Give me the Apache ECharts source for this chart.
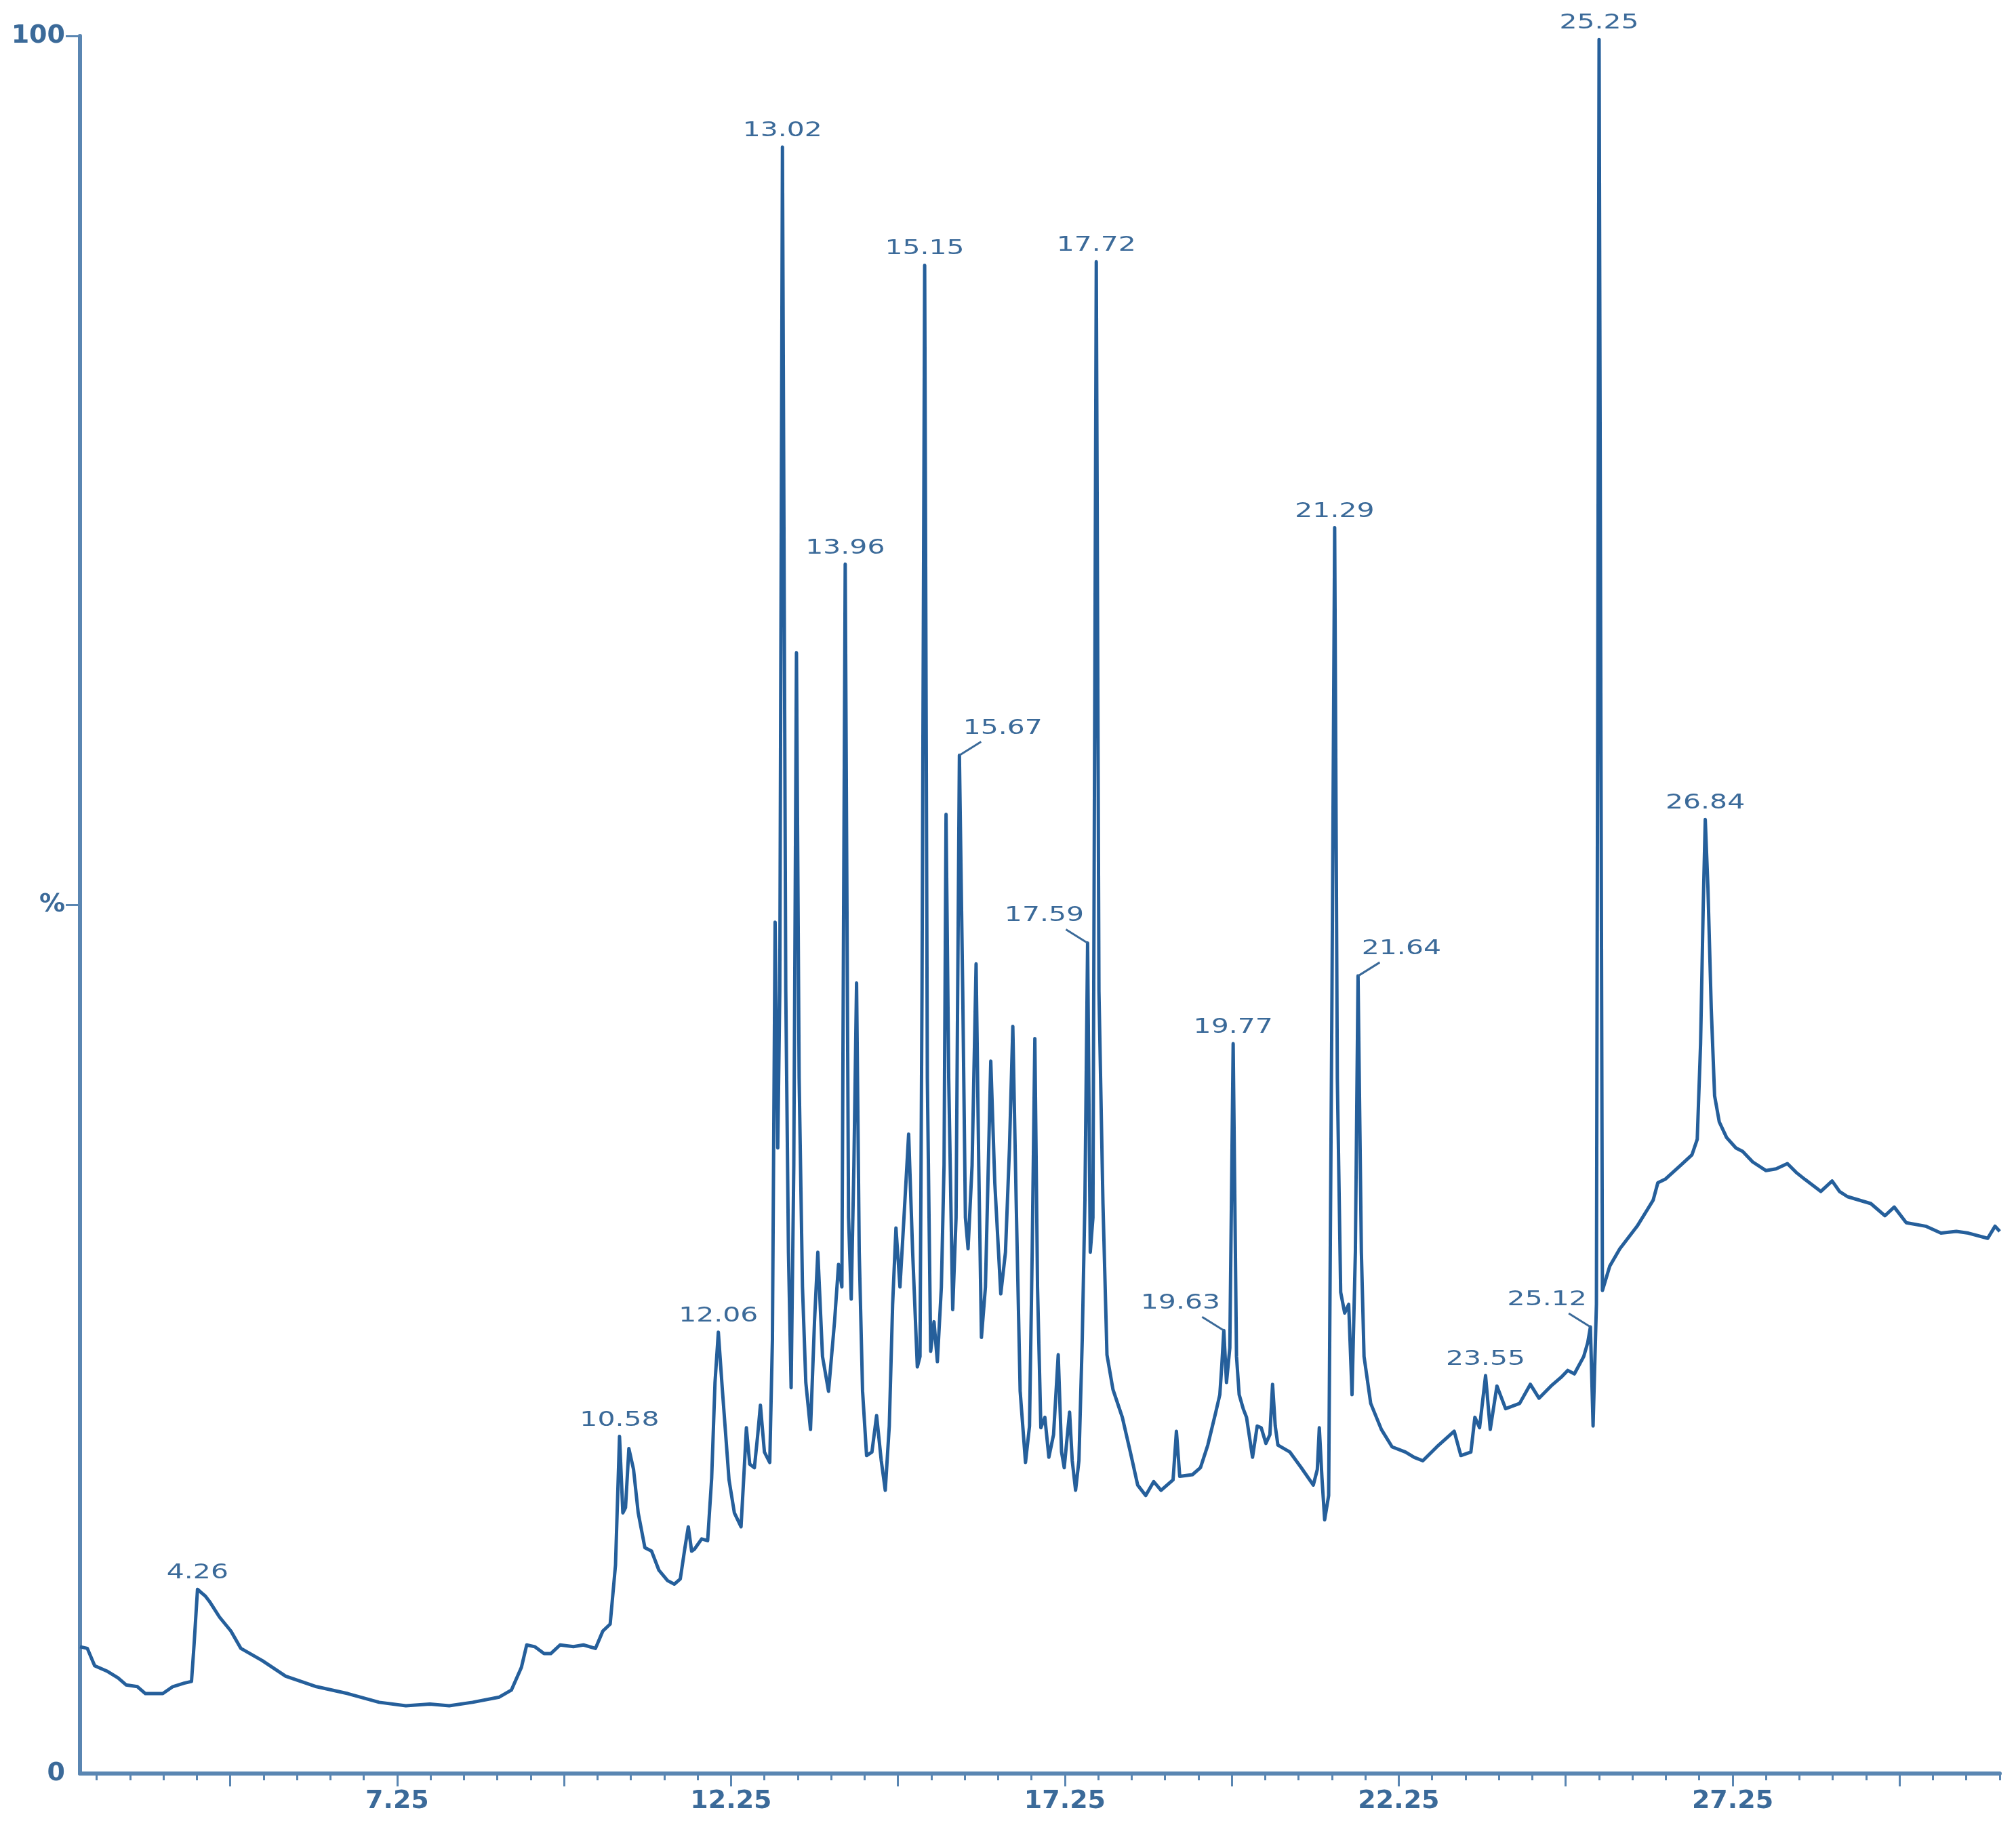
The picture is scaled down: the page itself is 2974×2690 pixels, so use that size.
<!DOCTYPE html>
<html>
<head>
<meta charset="utf-8">
<title>Chromatogram</title>
<script src="https://cdn.jsdelivr.net/npm/echarts@6.0.0/dist/echarts.min.js"></script>
<style>
  html, body { margin: 0; padding: 0; background: #ffffff; }
  #chart { width: 2974px; height: 2690px; }
</style>
</head>
<body>
<div id="chart"></div>
<script>
// retention time (min) and relative intensity (%)
const retentionTime = [
  2.50, 2.61, 2.72, 2.90, 3.07, 3.19, 3.36, 3.48, 3.74, 3.89, 4.06, 4.17, 4.21, 4.26, 4.32, 4.38,
  4.44, 4.59, 4.76, 4.91, 5.23, 5.58, 6.04, 6.51, 6.98, 7.38, 7.74, 8.03, 8.38, 8.78, 8.96, 9.11,
  9.19, 9.31, 9.45, 9.55, 9.69, 9.89, 10.04, 10.22, 10.33, 10.44,
  10.52, 10.58, 10.63, 10.67, 10.72, 10.79, 10.86, 10.96, 11.06, 11.17, 11.30, 11.40, 11.49, 11.56,
  11.61, 11.66, 11.70, 11.81, 11.90, 11.96, 12.01, 12.06, 12.12, 12.22, 12.30, 12.40, 12.44, 12.48,
  12.53, 12.60, 12.65, 12.69, 12.75, 12.83, 12.87, 12.91, 12.95, 12.98, 13.02, 13.07, 13.11, 13.15,
  13.19, 13.23, 13.27, 13.32, 13.37, 13.44, 13.50, 13.55, 13.62, 13.71, 13.80, 13.86, 13.91, 13.96,
  14.01, 14.05, 14.09, 14.13, 14.17, 14.22, 14.28, 14.36, 14.43, 14.50, 14.56, 14.62, 14.67, 14.72,
  14.78, 14.84, 14.91, 14.97, 15.04, 15.08, 15.11, 15.15, 15.19, 15.24, 15.29, 15.34, 15.40, 15.44,
  15.47, 15.51, 15.57, 15.62, 15.67, 15.72, 15.76, 15.80, 15.86, 15.92, 15.96, 16.00, 16.06, 16.14,
  16.20, 16.29, 16.36, 16.42, 16.47, 16.52, 16.58, 16.66, 16.72, 16.76, 16.80, 16.84, 16.89, 16.95,
  17.01, 17.08, 17.15, 17.20, 17.24, 17.32, 17.36, 17.41, 17.46, 17.51, 17.55, 17.59, 17.63, 17.67,
  17.72, 17.76, 17.82, 17.88, 17.97, 18.11, 18.23, 18.34, 18.46, 18.58, 18.69, 18.87, 18.92, 18.97,
  19.16, 19.28, 19.39, 19.51, 19.57, 19.60, 19.63, 19.67, 19.72, 19.77, 19.82, 19.86, 19.92, 19.97,
  20.06, 20.13, 20.19, 20.26, 20.32, 20.36, 20.40, 20.44, 20.62, 20.79, 20.97, 21.03, 21.06, 21.10,
  21.14, 21.20, 21.25, 21.29, 21.33, 21.38, 21.44, 21.50, 21.55, 21.60, 21.64, 21.69, 21.73, 21.83,
  21.99, 22.15, 22.35, 22.48, 22.61, 22.82, 23.08, 23.18, 23.33, 23.39, 23.46, 23.55, 23.62, 23.72,
  23.85, 24.06, 24.22, 24.35, 24.53, 24.68, 24.78, 24.88, 25.02, 25.08, 25.12, 25.16, 25.21, 25.25,
  25.30, 25.41, 25.56, 25.82, 25.98, 26.06, 26.13, 26.24, 26.47, 26.64, 26.72, 26.77, 26.81, 26.84,
  26.88, 26.93, 26.98, 27.05, 27.16, 27.30, 27.40, 27.55, 27.75, 27.90, 28.07, 28.20, 28.33, 28.57,
  28.74, 28.85, 28.97, 29.32, 29.53, 29.67, 29.85, 30.14, 30.37, 30.60, 30.78, 31.07, 31.18, 31.25
];
const intensity = [
  7.3, 7.2, 6.2, 5.9, 5.5, 5.1, 5.0, 4.6, 4.6, 5.0, 5.2, 5.3, 7.5, 10.6, 10.4, 10.2,
  9.9, 9.0, 8.2, 7.2, 6.5, 5.6, 5.0, 4.6, 4.1, 3.9, 4.0, 3.9, 4.1, 4.4, 4.8, 6.1,
  7.4, 7.3, 6.9, 6.9, 7.4, 7.3, 7.4, 7.2, 8.2, 8.6,
  12.0, 19.4, 15.0, 15.3, 18.7, 17.5, 15.0, 13.0, 12.8, 11.7, 11.1, 10.9, 11.2, 13.0,
  14.2, 12.8, 12.9, 13.5, 13.4, 17.0, 22.5, 25.4, 22.1, 16.9, 15.0, 14.2, 17.0, 19.9,
  17.8, 17.6, 19.5, 21.2, 18.5, 17.9, 25.0, 49.0, 36.0, 45.0, 93.6, 45.0, 30.0, 22.2,
  35.0, 64.5, 40.0, 28.0, 22.5, 19.8, 26.0, 30.0, 24.0, 22.0, 26.0, 29.3, 28.0, 69.6,
  32.0, 27.3, 35.0, 45.5, 30.0, 22.0, 18.3, 18.5, 20.6, 18.0, 16.3, 20.0, 27.0, 31.4,
  28.0, 32.0, 36.8, 30.0, 23.4, 24.0, 45.0, 86.8, 40.0, 24.3, 26.0, 23.7, 28.0, 35.0,
  55.2, 40.0, 26.7, 32.0, 58.6, 45.0, 32.0, 30.2, 35.0, 46.6, 35.0, 25.1, 28.0, 41.0,
  34.0, 27.6, 30.0, 36.0, 43.0, 33.0, 22.0, 17.9, 20.0, 30.0, 42.3, 28.0, 19.9, 20.5,
  18.2, 19.5, 24.1, 18.5, 17.6, 20.8, 18.0, 16.3, 18.0, 25.0, 33.0, 47.8, 30.0, 32.0,
  87.0, 45.0, 32.8, 24.1, 22.1, 20.5, 18.5, 16.6, 16.0, 16.8, 16.3, 16.9, 19.7, 17.1,
  17.2, 17.6, 18.9, 20.8, 21.8, 23.5, 25.5, 22.5, 24.5, 42.0, 24.0, 21.8, 21.0, 20.5,
  18.2, 20.0, 19.9, 19.0, 19.5, 22.4, 20.0, 18.9, 18.5, 17.6, 16.6, 17.5, 19.9, 17.0,
  14.6, 16.0, 45.0, 71.7, 40.0, 27.7, 26.5, 27.0, 21.8, 30.0, 45.9, 30.0, 24.0, 21.3,
  19.8, 18.8, 18.5, 18.2, 18.0, 18.8, 19.7, 18.3, 18.5, 20.5, 19.9, 22.9, 19.8, 22.3,
  21.0, 21.3, 22.4, 21.6, 22.3, 22.8, 23.2, 23.0, 24.0, 24.8, 25.7, 20.0, 27.0, 99.8,
  27.8, 29.2, 30.2, 31.5, 32.5, 33.0, 34.0, 34.2, 35.0, 35.6, 36.5, 42.0, 50.0, 54.9,
  51.0, 44.0, 39.0, 37.5, 36.6, 36.0, 35.8, 35.2, 34.7, 34.8, 35.1, 34.6, 34.2, 33.5,
  34.1, 33.5, 33.2, 32.8, 32.1, 32.6, 31.7, 31.5, 31.1, 31.2, 31.1, 30.8, 31.5, 31.2
];

// labelled peaks (retention times); 0 = label above, 1 = leader to the right, -1 = leader to the left
const peakTimes = [4.26, 10.58, 12.06, 13.02, 13.96, 15.15, 15.67, 17.59, 17.72, 19.63,
                   19.77, 21.29, 21.64, 23.55, 25.12, 25.25, 26.84];
const peakLeader = [0, 0, 0, 0, 0, 0, 1, -1, 0, -1, 0, 0, 1, 0, -1, 0, 0];

// axis ticks
const xLabelTicks = [7.25, 12.25, 17.25, 22.25, 27.25];
const xMajorTicks = [4.75, 7.25, 9.75, 12.25, 14.75, 17.25, 19.75, 22.25, 24.75, 27.25, 29.75];
const xMinorTicks = [2.75, 3.25, 3.75, 4.25, 5.25, 5.75, 6.25, 6.75, 7.75, 8.25, 8.75, 9.25,
                     10.25, 10.75, 11.25, 11.75, 12.75, 13.25, 13.75, 14.25, 15.25, 15.75, 16.25, 16.75,
                     17.75, 18.25, 18.75, 19.25, 20.25, 20.75, 21.25, 21.75, 22.75, 23.25, 23.75, 24.25,
                     25.25, 25.75, 26.25, 26.75, 27.75, 28.25, 28.75, 29.25, 30.25, 30.75, 31.25];
const yLabelTicks = [0, 50, 100];
const yTickMarks = [50, 100];

const traceColor = '#255f9b';
const axisColor = '#5a86b2';
const textColor = '#3b6a99';

const trace = retentionTime.map((t, i) => [t, intensity[i]]);
const peaks = peakTimes.map((t, i) => [t, intensity[retentionTime.indexOf(t)], i]);

const chart = echarts.init(document.getElementById('chart'), null, { renderer: 'canvas' });

const axisLabelStyle = {
    color: textColor,
    fontFamily: 'DejaVu Sans',
    fontWeight: 'bold',
    fontSize: 38
};

const option = {
    animation: false,
    backgroundColor: '#ffffff',
    grid: { left: 118, right: 24, top: 53, bottom: 73 },
    xAxis: [
        {
            type: 'value',
            position: 'bottom',
            min: 2.5,
            max: 31.25,
            splitLine: { show: false },
            axisLine: { show: true, lineStyle: { color: axisColor, width: 6 } },
            axisTick: { show: true, customValues: xMajorTicks, length: 19, lineStyle: { color: axisColor, width: 3 } },
            axisLabel: Object.assign({ customValues: xLabelTicks, margin: 22 }, axisLabelStyle)
        },
        {
            type: 'value',
            position: 'bottom',
            min: 2.5,
            max: 31.25,
            splitLine: { show: false },
            axisLine: { show: false },
            axisTick: { show: true, customValues: xMinorTicks, length: 10, lineStyle: { color: axisColor, width: 3 } },
            axisLabel: { show: false }
        }
    ],
    yAxis: {
        type: 'value',
        min: 0,
        max: 100,
        splitLine: { show: false },
        axisLine: { show: true, lineStyle: { color: axisColor, width: 6 } },
        axisTick: { show: true, customValues: yTickMarks, length: 21, lineStyle: { color: axisColor, width: 3 } },
        axisLabel: Object.assign({
            customValues: yLabelTicks,
            margin: 22,
            formatter: v => (v === 50 ? '%' : String(v))
        }, axisLabelStyle)
    },
    series: [
        {
            type: 'line',
            data: trace,
            xAxisIndex: 0,
            symbol: 'none',
            silent: true,
            lineStyle: { color: traceColor, width: 5, join: 'round' },
            z: 2
        },
        {
            type: 'custom',
            xAxisIndex: 0,
            data: peaks,
            silent: true,
            z: 3,
            renderItem: (params, api) => {
                const i = api.value(2);
                const p = api.coord([api.value(0), api.value(1)]);
                const side = peakLeader[i];
                const children = [];
                let tx = p[0];
                let ty = p[1] - 24;
                if (side !== 0) {
                    children.push({
                        type: 'line',
                        shape: { x1: p[0], y1: p[1], x2: p[0] + side * 32, y2: p[1] - 20 },
                        style: { stroke: textColor, lineWidth: 3 }
                    });
                    tx = p[0] + side * 64;
                    ty = p[1] - 40;
                }
                children.push({
                    type: 'text',
                    x: tx,
                    y: ty,
                    scaleX: 1.32,
                    style: {
                        text: peakTimes[i].toFixed(2),
                        fill: textColor,
                        font: '31px "DejaVu Sans"',
                        align: 'center',
                        verticalAlign: 'middle'
                    }
                });
                return { type: 'group', children: children };
            }
        }
    ]
};

chart.setOption(option);
</script>
</body>
</html>
